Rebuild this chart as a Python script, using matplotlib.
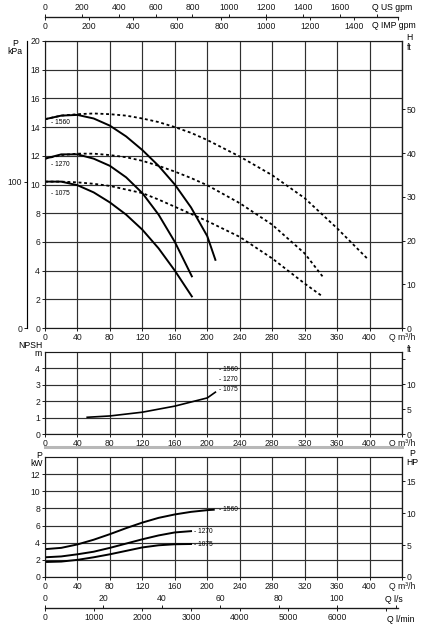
import numpy as np
import matplotlib
matplotlib.use("Agg")
import matplotlib.pyplot as plt
from matplotlib.lines import Line2D

plt.rcParams['font.family'] = ['Liberation Sans', 'DejaVu Sans']
plt.rcParams['font.size'] = 6.2

# figure size in pixels, positions below are given in pixels of the reference
W, H = 429, 629
def fx(px):
    return px / W
def fy(py):
    return 1 - py / H

# unit conversions
M_TO_FT = 3.2808
M_TO_KPA = 9.81
KW_TO_HP = 1 / 0.7457
M3H_TO_USGPM = 4.4029
M3H_TO_IMPGPM = 3.6662
M3H_TO_LS = 1 / 3.6
M3H_TO_LMIN = 1000 / 60

Q_MAX = 440
Q_SCALE_END = 435

# H-Q curves (m), solid
Q_1560 = [0, 20, 40, 60, 80, 100, 120, 140, 160, 180, 200, 210]
H_1560 = [14.55, 14.8, 14.85, 14.6, 14.1, 13.35, 12.4, 11.3, 10.0, 8.4, 6.4, 4.75]
Q_1270 = [0, 20, 40, 60, 80, 100, 120, 140, 160, 181]
H_1270 = [11.8, 12.1, 12.1, 11.8, 11.3, 10.5, 9.4, 7.9, 6.0, 3.6]
Q_1075 = [0, 20, 40, 60, 80, 100, 120, 140, 160, 181]
H_1075 = [10.2, 10.2, 9.95, 9.45, 8.75, 7.9, 6.85, 5.55, 4.0, 2.2]

# H-Q curves (m), dashed
Qd_1560 = [0, 20, 40, 60, 80, 100, 120, 140, 160, 180, 200, 240, 280, 320, 360, 397]
Hd_1560 = [14.55, 14.8, 14.9, 14.95, 14.9, 14.8, 14.6, 14.35, 14.0, 13.6, 13.1, 11.95, 10.65, 9.05, 6.95, 4.85]
Qd_1270 = [0, 20, 40, 60, 80, 100, 120, 140, 160, 180, 200, 240, 280, 320, 342]
Hd_1270 = [11.8, 12.05, 12.15, 12.15, 12.05, 11.9, 11.65, 11.3, 10.9, 10.45, 9.95, 8.7, 7.2, 5.2, 3.6]
Qd_1075 = [0, 20, 40, 60, 80, 100, 120, 140, 160, 180, 200, 240, 280, 320, 342]
Hd_1075 = [10.2, 10.2, 10.15, 10.05, 9.9, 9.65, 9.4, 8.95, 8.45, 7.95, 7.45, 6.35, 4.85, 3.1, 2.2]

# NPSH curve (m)
Q_npsh = [52, 80, 120, 160, 200, 210]
NPSH = [1.02, 1.1, 1.33, 1.7, 2.2, 2.55]

# power curves (kW)
Qp_1560 = [0, 20, 40, 60, 80, 100, 120, 140, 160, 180, 200, 208]
P_1560 = [3.25, 3.4, 3.8, 4.35, 5.0, 5.7, 6.35, 6.9, 7.3, 7.6, 7.8, 7.85]
Qp_1270 = [0, 20, 40, 60, 80, 100, 120, 140, 160, 180]
P_1270 = [2.3, 2.4, 2.65, 2.95, 3.4, 3.9, 4.4, 4.85, 5.2, 5.35]
Qp_1075 = [0, 20, 40, 60, 80, 100, 120, 140, 160, 180]
P_1075 = [1.75, 1.8, 2.0, 2.3, 2.65, 3.05, 3.45, 3.7, 3.82, 3.85]

impellers = ["1560", "1270", "1075"]

q_ticks = list(range(0, Q_MAX + 1, 40))
q_labels = [str(q) for q in q_ticks[:-1]] + ["Q m³/h"]

GRID = '#303030'
LW_CURVE = 1.4
DASH = (0, (1.6, 1.5))
LABEL_FS = 4.8
TICKS = dict(direction='out', length=2.5, width=0.7, pad=1.0, colors='#1a1a1a')


def style_panel(ax, ymax, ystep, ylab_max):
    ax.set_xlim(0, Q_MAX)
    ax.set_ylim(0, ymax)
    ax.set_xticks(q_ticks)
    ax.set_xticklabels(q_labels)
    ax.set_yticks(list(range(0, ylab_max + 1, ystep)))
    ax.grid(True, color=GRID, lw=0.85)
    ax.set_axisbelow(True)
    ax.tick_params(**TICKS)
    for s in ax.spines.values():
        s.set_linewidth(0.85)
        s.set_color('#1a1a1a')


fig = plt.figure(figsize=(W / 100, H / 100), dpi=100)

# ---- main panel: head
ax1 = fig.add_axes([fx(45), fy(328), fx(402) - fx(45), fy(41) - fy(328)])
style_panel(ax1, 20, 2, 20)
ax1.plot(Q_1560, H_1560, 'k-', lw=LW_CURVE)
ax1.plot(Q_1270, H_1270, 'k-', lw=LW_CURVE)
ax1.plot(Q_1075, H_1075, 'k-', lw=LW_CURVE)
ax1.plot(Qd_1560, Hd_1560, color='k', ls=DASH, lw=1.3)
ax1.plot(Qd_1270, Hd_1270, color='k', ls=DASH, lw=1.3)
ax1.plot(Qd_1075, Hd_1075, color='k', ls=DASH, lw=1.3)
for name, h in zip(impellers, [14.3, 11.4, 9.4]):
    ax1.text(8, h, "- " + name, fontsize=LABEL_FS, va='center', ha='left')

ft_ax = ax1.secondary_yaxis('right', functions=(lambda m: m * M_TO_FT, lambda f: f / M_TO_FT))
ft_ax.set_yticks([0, 10, 20, 30, 40, 50])
kpa_ax = ax1.secondary_yaxis(-0.05, functions=(lambda m: m * M_TO_KPA, lambda p: p / M_TO_KPA))
kpa_ax.set_yticks([0, 100])
for sa in (ft_ax, kpa_ax):
    sa.tick_params(**TICKS)
    for s in sa.spines.values():
        s.set_linewidth(0.85)

# ---- NPSH panel
ax2 = fig.add_axes([fx(45), fy(434), fx(402) - fx(45), fy(352) - fy(434)])
style_panel(ax2, 5, 1, 4)
ax2.plot(Q_npsh, NPSH, 'k-', lw=1.2)
for name, h in zip(impellers, [3.95, 3.34, 2.73]):
    ax2.text(214, h, "- " + name, fontsize=LABEL_FS, va='center', ha='left')
ft2 = ax2.secondary_yaxis('right', functions=(lambda m: m * M_TO_FT, lambda f: f / M_TO_FT))
ft2.set_yticks([0, 5, 10, 15])
ft2.set_yticklabels(['0', '5', '10', ''])
ft2.tick_params(**TICKS)

# ---- power panel
ax3 = fig.add_axes([fx(45), fy(577), fx(402) - fx(45), fy(457) - fy(577)])
style_panel(ax3, 14, 2, 12)
ax3.plot(Qp_1560, P_1560, 'k-', lw=LW_CURVE)
ax3.plot(Qp_1270, P_1270, 'k-', lw=LW_CURVE)
ax3.plot(Qp_1075, P_1075, 'k-', lw=LW_CURVE)
ax3.text(214, 7.9, "- 1560", fontsize=LABEL_FS, va='center', ha='left')
ax3.text(184, 5.35, "- 1270", fontsize=LABEL_FS, va='center', ha='left')
ax3.text(184, 3.85, "- 1075", fontsize=LABEL_FS, va='center', ha='left')
hp_ax = ax3.secondary_yaxis('right', functions=(lambda k: k * KW_TO_HP, lambda h: h / KW_TO_HP))
hp_ax.set_yticks([0, 5, 10, 15])
hp_ax.tick_params(**TICKS)

# grey rule between NPSH and power panels
fig.add_artist(Line2D([fx(45), fx(402)], [fy(446.5), fy(446.5)], color='#b8b8b8', lw=2.2))


# ---- flow scales drawn as thin axes (top: gpm, bottom: l/s and l/min)
def flow_scale(py, factor, ticks, labels, side):
    a = fig.add_axes([fx(45), fy(py), fx(45 + Q_SCALE_END * 357 / Q_MAX) - fx(45), 0.0001])
    a.patch.set_visible(False)
    a.set_xlim(0, Q_SCALE_END * factor)
    a.yaxis.set_visible(False)
    for s in a.spines.values():
        s.set_visible(False)
    a.spines[side].set_visible(True)
    a.spines[side].set_linewidth(0.85)
    a.spines[side].set_color('#1a1a1a')
    a.set_xticks(ticks)
    a.set_xticklabels(labels)
    if side == 'top':
        a.xaxis.set_ticks_position('top')
        a.xaxis.set_label_position('top')
    else:
        a.xaxis.set_ticks_position('bottom')
    a.tick_params(**TICKS)
    return a


us_ticks = list(range(0, 1801, 200))
flow_scale(17, M3H_TO_USGPM, us_ticks, [str(t) for t in us_ticks[:-1]] + [''], 'top')
imp_ticks = list(range(0, 1601, 200))
flow_scale(17, M3H_TO_IMPGPM, imp_ticks, [str(t) for t in imp_ticks[:-1]] + [''], 'bottom')
ls_ticks = list(range(0, 121, 20))
flow_scale(608, M3H_TO_LS, ls_ticks, [str(t) for t in ls_ticks[:-1]] + [''], 'top')
lmin_ticks = list(range(0, 7001, 1000))
flow_scale(608, M3H_TO_LMIN, lmin_ticks, [str(t) for t in lmin_ticks[:-1]] + [''], 'bottom')

# ---- unit captions
fig.text(fx(372), fy(8), "Q US gpm", ha='left', va='center')
fig.text(fx(372), fy(26), "Q IMP gpm", ha='left', va='center')
fig.text(fx(385), fy(599.5), "Q l/s", ha='left', va='center')
fig.text(fx(387), fy(619), "Q l/min", ha='left', va='center')
fig.text(fx(15), fy(43), "P", ha='center', va='center')
fig.text(fx(15), fy(52), "kPa", ha='center', va='center')
fig.text(fx(409), fy(37), "H", ha='center', va='center')
fig.text(fx(409), fy(48), "ft", ha='center', va='center')
fig.text(fx(30), fy(345), "NPSH", ha='center', va='center')
fig.text(fx(38), fy(354), "m", ha='center', va='center')
fig.text(fx(409), fy(349.5), "ft", ha='center', va='center')
fig.text(fx(39), fy(455), "P", ha='center', va='center')
fig.text(fx(37), fy(464), "kW", ha='center', va='center')
fig.text(fx(412), fy(454), "P", ha='center', va='center')
fig.text(fx(412), fy(462.5), "HP", ha='center', va='center')

fig.savefig("out.png", dpi=100)
